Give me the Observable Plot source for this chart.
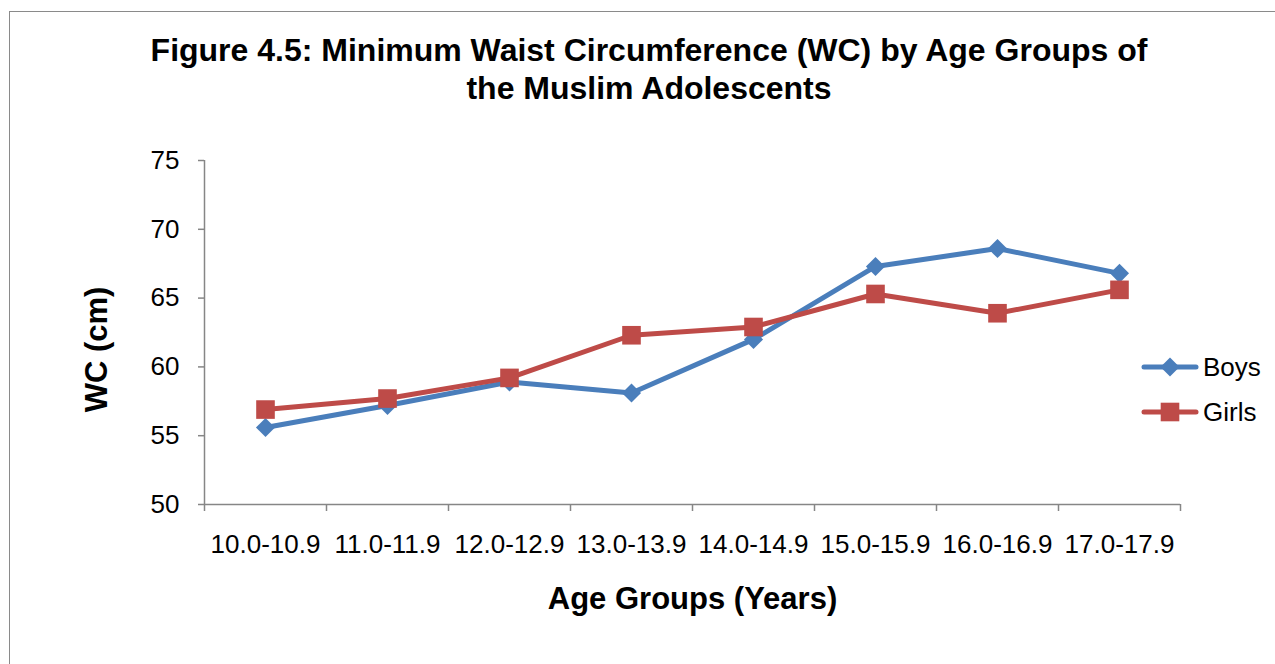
<!DOCTYPE html>
<html>
<head>
<meta charset="utf-8">
<script src="https://cdn.jsdelivr.net/npm/d3@7"></script>
<script src="https://cdn.jsdelivr.net/npm/@observablehq/plot@0.6"></script>
<style>
  html, body { margin: 0; padding: 0; background: #fff; }
  #wrap { position: relative; width: 1275px; height: 664px; overflow: hidden; background: #fff;
          font-family: "Liberation Sans", Arial, sans-serif; }
  #frame { position: absolute; left: 9px; top: 11px; width: 1400px; height: 800px;
           border: 1.5px solid #8a8a8a; box-sizing: border-box; }
  #title { position: absolute; left: 0; top: 31px; width: 1298px; text-align: center;
           font-size: 32px; font-weight: bold; line-height: 38px; color: #000; }
  #chart { position: absolute; left: 0; top: 0; }
  .leg { position: absolute; left: 1141px; height: 26px; display: flex; align-items: center;
         font-size: 26px; color: #000; }
  .leg svg { margin-right: 4px; }
</style>
</head>
<body>
<div id="wrap">
  <div id="frame"></div>
  <div id="chart"></div>
  <div id="title">Figure 4.5: Minimum Waist Circumference (WC) by Age Groups of<br>the Muslim Adolescents</div>
  <div id="legend"></div>
</div>
<script>
const categories = ["10.0-10.9", "11.0-11.9", "12.0-12.9", "13.0-13.9", "14.0-14.9", "15.0-15.9", "16.0-16.9", "17.0-17.9"];
const boys  = [55.6, 57.2, 58.9, 58.1, 62.0, 67.3, 68.6, 66.8];
const girls = [56.9, 57.7, 59.2, 62.3, 62.9, 65.3, 63.9, 65.6];
const yTicks = [50, 55, 60, 65, 70, 75];
const seriesNames = ["Boys", "Girls"];
const colors = {Boys: "#4a7ebb", Girls: "#be4b48"};

const boysData = categories.map((c, i) => ({cat: c, value: boys[i], series: "Boys"}));
const girlsData = categories.map((c, i) => ({cat: c, value: girls[i], series: "Girls"}));
const xPos = d => categories.indexOf(d.cat) + 0.5;

const diamondR = 8.6, squareR = 10.5;

const chart = Plot.plot({
  width: 1275,
  height: 664,
  marginLeft: 204,
  marginRight: 95,
  marginTop: 160,
  marginBottom: 160,
  style: {fontFamily: "'Liberation Sans', Arial, sans-serif", background: "transparent", color: "#000"},
  x: {domain: [0, categories.length], axis: null},
  y: {domain: [50, 75], axis: null},
  marks: [
    Plot.ruleX([0], {stroke: "#868686", strokeWidth: 1.5}),
    Plot.ruleY([50], {stroke: "#868686", strokeWidth: 1.5}),
    Plot.axisY({ticks: yTicks, tickSize: 6, tickPadding: 19, fontSize: 26, stroke: "#868686", strokeWidth: 1.5, fill: "#000", label: null}),
    Plot.axisX({ticks: d3.range(categories.length + 1), tickSize: 7, tickFormat: () => "", stroke: "#868686", strokeWidth: 1.5, label: null}),
    Plot.axisX({ticks: categories.map((c, i) => i + 0.5), tickSize: 0, tickPadding: 30, fontSize: 26, fill: "#000",
                tickFormat: v => categories[Math.floor(v)], label: null}),
    Plot.line(boysData, {x: xPos, y: "value", stroke: colors.Boys, strokeWidth: 5}),
    Plot.dot(boysData, {x: xPos, y: "value", symbol: "diamond2", r: diamondR, fill: colors.Boys, stroke: "none"}),
    Plot.line(girlsData, {x: xPos, y: "value", stroke: colors.Girls, strokeWidth: 5}),
    Plot.dot(girlsData, {x: xPos, y: "value", symbol: "square", r: squareR, fill: colors.Girls, stroke: "none"}),
    Plot.text(["WC (cm)"], {frameAnchor: "left", textAnchor: "middle", lineAnchor: "middle", rotate: -90, dx: -107, dy: 17,
                            fontSize: 31, fontWeight: "bold", fill: "#000"}),
    Plot.text(["Age Groups (Years)"], {frameAnchor: "bottom", textAnchor: "middle", lineAnchor: "middle", dy: 95,
                                       fontSize: 31, fontWeight: "bold", fill: "#000"})
  ]
});
document.getElementById("chart").appendChild(chart);

// Legend
const legend = document.getElementById("legend");
const legendTops = {Boys: 354, Girls: 399};
const symbolPaths = {
  Boys: d3.symbol(d3.symbolDiamond2, diamondR * diamondR * Math.PI)(),
  Girls: d3.symbol(d3.symbolSquare, squareR * squareR * Math.PI)()
};
seriesNames.forEach(name => {
  const el = document.createElement("div");
  el.className = "leg";
  el.style.top = legendTops[name] + "px";
  el.innerHTML = `<svg width="58" height="26" viewBox="0 0 58 26">
      <line x1="3" x2="55" y1="13" y2="13" stroke="${colors[name]}" stroke-width="5" stroke-linecap="round"/>
      <path transform="translate(29,13)" d="${symbolPaths[name]}" fill="${colors[name]}"/>
    </svg><span>${name}</span>`;
  legend.appendChild(el);
});
</script>
</body>
</html>
